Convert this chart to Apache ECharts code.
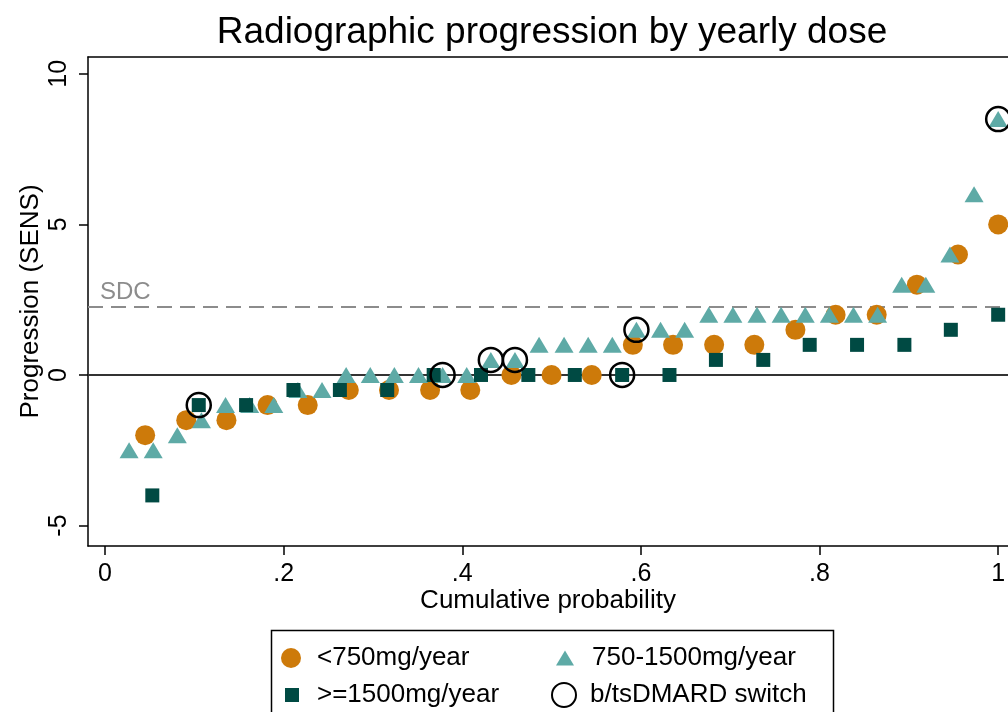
<!DOCTYPE html>
<html>
<head>
<meta charset="utf-8">
<script src="https://cdn.jsdelivr.net/npm/echarts@6/dist/echarts.min.js"></script>
<style>
  html, body { margin: 0; padding: 0; background: #fff; }
  #chart { width: 1008px; height: 712px; }
</style>
</head>
<body>
<div id="chart"></div>
<script>
// Cumulative probability (x) and radiographic progression in SENS (y), per dose group

// <750mg/year
const lowProb = [0.045, 0.091, 0.136, 0.182, 0.227, 0.273, 0.318, 0.364, 0.409, 0.455, 0.5,
  0.545, 0.591, 0.636, 0.682, 0.727, 0.773, 0.818, 0.864, 0.909, 0.955, 1]
const lowSens = [-2, -1.5, -1.5, -1, -1, -0.5, -0.5, -0.5, -0.5, 0, 0,
  0, 1, 1, 1, 1, 1.5, 2, 2, 3, 4, 5]

// 750-1500mg/year
const midProb = [0.027, 0.054, 0.081, 0.108, 0.135, 0.162, 0.189, 0.216, 0.243, 0.27,
  0.297, 0.324, 0.351, 0.378, 0.405, 0.432, 0.459, 0.486, 0.514, 0.541,
  0.568, 0.595, 0.622, 0.649, 0.676, 0.703, 0.73, 0.757, 0.784, 0.811,
  0.838, 0.865, 0.892, 0.919, 0.946, 0.973, 1]
const midSens = [-2.5, -2.5, -2, -1.5, -1, -1, -1, -0.5, -0.5, 0,
  0, 0, 0, 0, 0, 0.5, 0.5, 1, 1, 1,
  1, 1.5, 1.5, 1.5, 2, 2, 2, 2, 2, 2,
  2, 2, 3, 3, 4, 6, 8.5]

// >=1500mg/year
const highProb = [0.053, 0.105, 0.158, 0.211, 0.263, 0.316, 0.368, 0.421, 0.474, 0.526,
  0.579, 0.632, 0.684, 0.737, 0.789, 0.842, 0.895, 0.947, 1]
const highSens = [-4, -1, -1, -0.5, -0.5, -0.5, 0, 0, 0, 0,
  0, 0, 0.5, 0.5, 1, 1, 1, 1.5, 2]

// positions (0-based) of patients who switched to a b/tsDMARD
const lowSwitch = []
const midSwitch = [13, 15, 16, 21, 36]
const highSwitch = [1, 10]

const xTicks = [0, 0.2, 0.4, 0.6, 0.8, 1]
const yTicks = [-5, 0, 5, 10]
const sdcValue = 2.25

const font = 'Liberation Sans, Arial, Helvetica, sans-serif'

const pair = (xs, ys) => xs.map((x, i) => [x, ys[i]])
const pick = (xs, ys, idx) => idx.map(i => [xs[i], ys[i]])

const switchData = [
  ...pick(lowProb, lowSens, lowSwitch),
  ...pick(midProb, midSens, midSwitch),
  ...pick(highProb, highSens, highSwitch),
]

const tickLabel = v => (v === 0 || v === 1 ? String(v) : String(v).replace(/^0/, ''))

// one legend per entry so each can sit in its own column
const legendItem = (name, left, top, w, h, padLeft) => ({
  data: [name],
  left: left,
  top: top,
  padding: 0,
  itemWidth: w,
  itemHeight: h,
  selectedMode: false,
  textStyle: { fontSize: 26, color: '#000', fontFamily: font, padding: [0, 0, 0, padLeft] },
})

const myChart = echarts.init(document.getElementById('chart'))

const option = {
  animation: false,
  textStyle: { fontFamily: font },
  title: {
    text: 'Radiographic progression by yearly dose',
    left: 552,
    top: 14,
    padding: 0,
    textAlign: 'center',
    textStyle: { fontSize: 37, fontWeight: 'normal', color: '#000', fontFamily: font },
  },
  // the plot region is cut off by the right edge, so the x range stops just past 1
  grid: {
    left: 88,
    top: 57,
    right: 0,
    bottom: 166,
    show: false,
    outerBoundsMode: 'none',
  },
  xAxis: [
    {
      type: 'value',
      min: -0.019,
      max: 1.011,
      name: 'Cumulative probability',
      nameLocation: 'middle',
      nameGap: 42,
      nameMoveOverlap: false,
      nameTextStyle: { fontSize: 26, color: '#000', fontFamily: font },
      axisLine: { onZero: false, lineStyle: { color: '#000', width: 1.5 } },
      axisTick: { customValues: xTicks, length: 9, lineStyle: { color: '#000', width: 1.5 } },
      axisLabel: { customValues: xTicks, formatter: tickLabel, fontSize: 25, color: '#000', margin: 16 },
      splitLine: { show: false },
    },
    {
      // top edge of the plot region
      type: 'value',
      position: 'top',
      min: -0.019,
      max: 1.011,
      axisLine: { onZero: false, lineStyle: { color: '#000', width: 1.5 } },
      axisTick: { show: false },
      axisLabel: { show: false },
      splitLine: { show: false },
    },
  ],
  yAxis: {
    type: 'value',
    min: -5.68,
    max: 10.56,
    name: 'Progression (SENS)',
    nameLocation: 'middle',
    nameRotate: 90,
    nameGap: 44,
    nameMoveOverlap: false,
    nameTextStyle: { fontSize: 26, color: '#000', fontFamily: font },
    axisLine: { onZero: false, lineStyle: { color: '#000', width: 1.5 } },
    axisTick: { customValues: yTicks, length: 9, lineStyle: { color: '#000', width: 1.5 } },
    axisLabel: { customValues: yTicks, rotate: 90, fontSize: 25, color: '#000', margin: 16 },
    splitLine: { show: false },
  },
  legend: [
    legendItem('<750mg/year', 281, 645, 20, 20, 11),
    legendItem('750-1500mg/year', 556, 645, 18, 15, 13),
    legendItem('>=1500mg/year', 285, 682, 14, 14, 13),
    legendItem('b/tsDMARD switch', 551, 682, 24, 24, 9),
  ],
  graphic: [
    {
      type: 'rect',
      shape: { x: 271.5, y: 630.5, width: 562, height: 100 },
      style: { fill: 'none', stroke: '#000', lineWidth: 1.5 },
      silent: true,
    },
  ],
  series: [
    {
      name: '<750mg/year',
      type: 'scatter',
      symbol: 'circle',
      symbolSize: 20,
      itemStyle: { color: '#CD7A0A', opacity: 1 },
      data: pair(lowProb, lowSens),
      markLine: {
        z: 1,
        silent: true,
        symbol: 'none',
        data: [
          {
            yAxis: 0,
            lineStyle: { color: '#333', width: 2, type: 'solid' },
            label: { show: false },
          },
          {
            yAxis: sdcValue,
            lineStyle: { color: '#8c8c8c', width: 2, type: [15, 8] },
            label: {
              show: true,
              formatter: 'SDC',
              position: 'insideStartTop',
              color: '#8c8c8c',
              fontSize: 24,
              fontFamily: font,
              distance: [12, 3],
            },
          },
        ],
      },
    },
    {
      name: '750-1500mg/year',
      type: 'scatter',
      symbol: 'triangle',
      symbolSize: [19, 16],
      itemStyle: { color: '#5EAAA6', opacity: 1 },
      data: pair(midProb, midSens),
    },
    {
      name: '>=1500mg/year',
      type: 'scatter',
      symbol: 'rect',
      symbolSize: 14,
      itemStyle: { color: '#004A43', opacity: 1 },
      data: pair(highProb, highSens),
    },
    {
      name: 'b/tsDMARD switch',
      type: 'scatter',
      symbol: 'circle',
      symbolSize: 24,
      itemStyle: { color: 'rgba(0,0,0,0)', borderColor: '#000', borderWidth: 2.5, opacity: 1 },
      data: switchData,
    },
  ],
}

myChart.setOption(option)
</script>
</body>
</html>
